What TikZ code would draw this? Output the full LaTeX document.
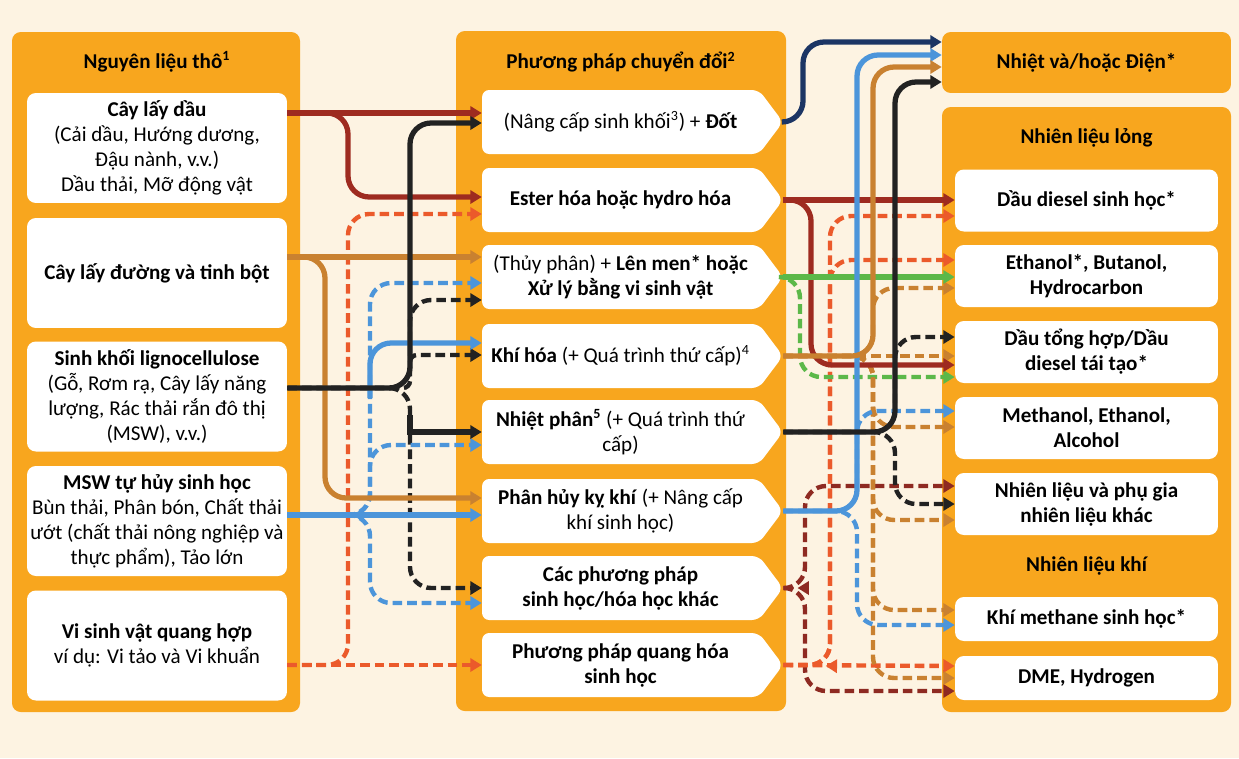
\documentclass[tikz,border=0pt]{standalone}
\usepackage{fontspec}
\setmainfont{Carlito}
\usetikzlibrary{arrows.meta, shapes.symbols}

\definecolor{bgcream}{HTML}{FDF3E2}
\definecolor{panelor}{HTML}{F8A61E}
\definecolor{oilred}{HTML}{9E2B20}
\definecolor{ligblack}{HTML}{222222}
\definecolor{sugochre}{HTML}{C98130}
\definecolor{mswblue}{HTML}{4C95DA}
\definecolor{phored}{HTML}{EB5A2B}
\definecolor{fermgreen}{HTML}{5CB849}
\definecolor{heatnavy}{HTML}{1C3564}
\definecolor{othred}{HTML}{8E2A22}

\newcommand{\boxfont}{\fontsize{12}{14.2}\selectfont}

\begin{document}
\begin{tikzpicture}[x=0.02cm, y=-0.02cm,
panel/.style={fill=panelor, rounded corners=5pt},
title/.style={font=\boxfont\bfseries, align=center},
feed/.style={rectangle, fill=white, rounded corners=5pt, minimum width=5.2cm,
minimum height=2.2cm, inner sep=0pt, align=center, font=\boxfont},
conv/.style={signal, signal to=east, signal pointer angle=106, fill=white,
rounded corners=4pt, minimum width=6.02cm, minimum height=1.28cm,
inner sep=1pt, align=center, font=\boxfont},
prod/.style={rectangle, fill=white, rounded corners=5pt, minimum width=5.26cm,
minimum height=1.24cm, inner sep=1pt, align=center, font=\boxfont\bfseries},
flow/.style={line width=3pt, rounded corners=12pt,
-{Triangle[length=6.5pt,width=7.5pt]}},
alt/.style={flow, line width=2.5pt, dash pattern=on 5.5pt off 2.8pt}
]
% background and panels
\fill[bgcream] (0,0) rectangle (1239,758);
\fill[panel] (12,32) rectangle (300,712);
\fill[panel] (456,31) rectangle (786,711);
\fill[panel] (942,107) rectangle (1231,712);

\node[title] (feedtitle) at (157,62) {Nguyên liệu thô\textsuperscript{1}};
\node[title] (convtitle) at (621,62) {Phương pháp chuyển đổi\textsuperscript{2}};
\node[title, fill=panelor, rounded corners=5pt, minimum width=5.78cm,
minimum height=1.22cm] (heat) at (1086.5,62.5) {Nhiệt và/hoặc Điện*};
\node[title] (liqtitle) at (1086.5,138) {Nhiên liệu lỏng};
\node[title] (gastitle) at (1086.5,566) {Nhiên liệu khí};

% raw materials
\node[feed] (oil) at (157,148) {\textbf{Cây lấy dầu}\\(Cải dầu, Hướng dương,\\Đậu nành, v.v.)\\Dầu thải, Mỡ động vật};
\node[feed] (sugar) at (157,273) {\textbf{Cây lấy đường và tinh bột}};
\node[feed] (ligno) at (157,396.5) {\textbf{Sinh khối lignocellulose}\\(Gỗ, Rơm rạ, Cây lấy năng\\lượng, Rác thải rắn đô thị\\(MSW), v.v.)};
\node[feed] (msw) at (157,521) {\textbf{MSW tự hủy sinh học}\\Bùn thải, Phân bón, Chất thải\\ướt (chất thải nông nghiệp và\\thực phẩm), Tảo lớn};
\node[feed] (photo) at (157,645.5) {\textbf{Vi sinh vật quang hợp}\\ví dụ: Vi tảo và Vi khuẩn};

% conversion routes
\node[conv] (burn) at (620.5,122) {(Nâng cấp sinh khối\textsuperscript{3}) + \textbf{Đốt}};
\node[conv] (ester) at (620.5,200) {\textbf{Ester hóa hoặc hydro hóa}};
\node[conv] (ferm) at (620.5,277) {(Thủy phân) + \textbf{Lên men* hoặc}\\\textbf{Xử lý bằng vi sinh vật}};
\node[conv] (gasif) at (620.5,356) {\textbf{Khí hóa} (+ Quá trình thứ cấp)\textsuperscript{4}};
\node[conv] (pyro) at (620.5,432) {\textbf{Nhiệt phân\textsuperscript{5}} (+ Quá trình thứ\\cấp)};
\node[conv] (anaer) at (620.5,511) {\textbf{Phân hủy kỵ khí} (+ Nâng cấp\\khí sinh học)};
\node[conv] (other) at (620.5,588) {\textbf{Các phương pháp}\\\textbf{sinh học/hóa học khác}};
\node[conv] (photobio) at (620.5,665) {\textbf{Phương pháp quang hóa}\\\textbf{sinh học}};

% products
\node[prod] (biodiesel) at (1086.5,200.5) {Dầu diesel sinh học*};
\node[prod] (ethanol) at (1086.5,276) {Ethanol*, Butanol,\\Hydrocarbon};
\node[prod] (synoil) at (1086.5,352) {Dầu tổng hợp/Dầu\\diesel tái tạo*};
\node[prod] (methanol) at (1086.5,428) {Methanol, Ethanol,\\Alcohol};
\node[prod] (additive) at (1086.5,504) {Nhiên liệu và phụ gia\\nhiên liệu khác};
\node[prod, minimum height=0.88cm] (biomethane) at (1086.5,619) {Khí methane sinh học*};
\node[prod, minimum height=0.88cm] (dme) at (1086.5,678) {DME, Hydrogen};

\coordinate (bkjoin) at (410,415);
\coordinate (bljoin) at (370,398);
\coordinate (mswjoin) at (370,515);
\coordinate (othjoin) at (805,588);
\coordinate (phojoin) at (830,666);

% raw materials -> conversion
\draw[alt, phored] (photo.east |- 0,665) -- (photobio.west |- 0,665);
\draw[alt, phored] (photo.east |- 0,665) -| (348,214) -- (ester.west |- 0,214);
\draw[alt, ligblack] (ligno.east |- 0,388) -| (410,300) -- (ferm.west |- 0,300);
\draw[alt, ligblack, rounded corners=4pt] (ligno.east |- 0,388) -| (410,355) -- (gasif.west |- 0,355);
\draw[alt, ligblack] (ligno.east |- 0,388) -| (410,588) -- (other.west |- 0,588);
\draw[alt, mswblue] (msw.east |- 0,515) -| (370,283) -- (ferm.west |- 0,283);
\draw[alt, mswblue] (msw.east |- 0,515) -| (370,445) -- (pyro.west |- 0,445);
\draw[alt, mswblue] (msw.east |- 0,515) -| (370,603) -- (other.west |- 0,603);
\draw[flow, sugochre] (sugar.east |- 0,257) -- (ferm.west |- 0,257);
\draw[flow, sugochre] (sugar.east |- 0,257) -| (325,498) -- (anaer.west |- 0,498);
\draw[flow, oilred] (oil.east |- 0,113) -- (burn.west |- 0,113);
\draw[flow, oilred] (oil.east |- 0,113) -| (348,197) -- (ester.west |- 0,197);
\draw[flow, mswblue] (msw.east |- 0,515) -- (anaer.west |- 0,515);
\draw[flow, mswblue, shorten >=37pt] (mswjoin) -- (msw.east |- 0,515);
\draw[flow, mswblue] (bljoin) |- (gasif.west |- 0,343);
\draw[flow, ligblack] (ligno.east |- 0,388) -| (410,123) -- (burn.west |- 0,123);
\draw[flow, ligblack, rounded corners=0pt] (bkjoin) |- (pyro.west |- 0,432);

% conversion -> products
\draw[alt, othred] (other.east) -| (805,486) -- (additive.west |- 0,486);
\draw[alt, othred] (other.east) -| (805,691) -- (dme.west |- 0,691);
\draw[alt, othred, shorten >=8pt] (othjoin) -- (other.east);
\draw[alt, phored] (photobio.east) -- (dme.west |- 0,666);
\draw[alt, phored] (photobio.east) -| (830,216) -- (biodiesel.west |- 0,216);
\draw[alt, phored] (photobio.east) -| (830,260) -- (ethanol.west |- 0,260);
\draw[alt, phored, shorten >=24pt] (phojoin) -- (photobio.east);
\draw[alt, fermgreen] (ferm.east) -| (800,377) -- (synoil.west |- 0,377);
\draw[alt, sugochre] (gasif.east) -| (873,288) -- (ethanol.west |- 0,288);
\draw[alt, sugochre] (gasif.east) -- (synoil.west |- 0,356);
\draw[alt, sugochre] (gasif.east) -| (873,427) -- (methanol.west |- 0,427);
\draw[alt, sugochre] (gasif.east) -| (873,520) -- (additive.west |- 0,520);
\draw[alt, sugochre] (gasif.east) -| (873,610) -- (biomethane.west |- 0,610);
\draw[alt, sugochre] (gasif.east) -| (873,678) -- (dme.west |- 0,678);
\draw[alt, ligblack] (pyro.east) -| (895,337) -- (synoil.west |- 0,337);
\draw[alt, ligblack] (pyro.east) -| (895,504) -- (additive.west |- 0,504);
\draw[alt, mswblue] (anaer.east) -| (857,411) -- (methanol.west |- 0,411);
\draw[alt, mswblue] (anaer.east) -| (857,625) -- (biomethane.west |- 0,625);
\draw[flow, heatnavy] (burn.east) -| (803,42) -- (heat.west |- 0,42);
\draw[flow, oilred] (ester.east) -- (biodiesel.west |- 0,200);
\draw[flow, oilred] (ester.east) -| (811,365) -- (synoil.west |- 0,365);
\draw[flow, fermgreen] (ferm.east) -- (ethanol.west |- 0,277);
\draw[flow, mswblue] (anaer.east) -| (857,55) -- (heat.west |- 0,55);
\draw[flow, sugochre] (gasif.east) -| (873,67) -- (heat.west |- 0,67);
\draw[flow, ligblack] (pyro.east) -| (895,82) -- (heat.west |- 0,82);
\end{tikzpicture}
\end{document}
